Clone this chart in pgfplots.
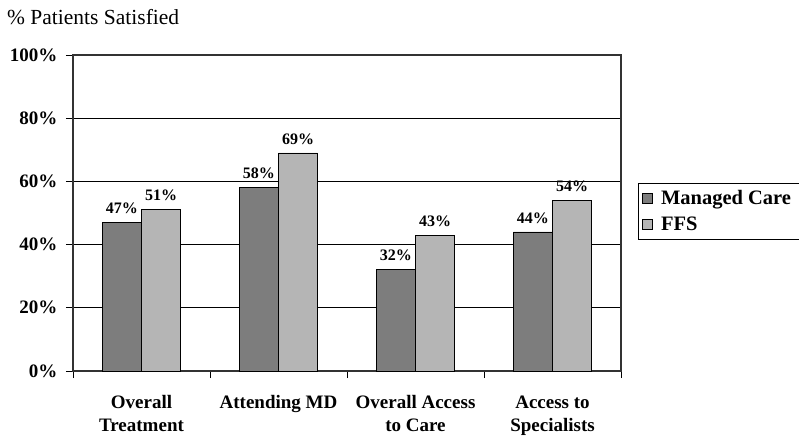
\documentclass[border=0pt]{standalone}
\usepackage{fontspec}
\setmainfont{Liberation Serif}
\usepackage{pgfplots}
\pgfplotsset{compat=1.18}
\definecolor{mc}{gray}{0.49}
\definecolor{ffs}{gray}{0.71}
\begin{document}
\begin{tikzpicture}[x=1pt,y=1pt]
\path[use as bounding box] (0,0) rectangle (799,437);
\node[anchor=base west, font=\fontsize{21.5}{21.5}\selectfont, inner sep=0] at (7,412) {\% Patients Satisfied};
\begin{axis}[
  at={(73pt,66pt)}, anchor=south west,
  scale only axis, width=548pt, height=316pt,
  /pgf/number format/assume math mode=true,
  ybar=0pt, bar width=0.285,
  xmin=-0.5, xmax=3.5, ymin=0, ymax=100,
  xtick={-0.5,0.5,1.5,2.5,3.5},
  x tick label as interval,
  xtick pos=bottom, ytick pos=left,
  xticklabels={Overall\\Treatment, Attending MD, Overall Access\\to Care, Access to\\Specialists},
  xticklabel style={align=center, font=\bfseries\fontsize{19}{23}\selectfont, yshift=-14pt},
  ytick={0,20,40,60,80,100},
  yticklabel={\pgfmathprintnumber{\tick}\%},
  yticklabel style={font=\bfseries\fontsize{19}{19}\selectfont, xshift=-5pt},
  tick align=outside, major tick length=7pt,
  tick style={black, line width=0.8pt},
  ymajorgrids, grid style={black, line width=1pt},
  axis line style={black!80, line width=1.2pt},
  nodes near coords={\pgfmathprintnumber{\pgfplotspointmeta}\%},
  every node near coord/.append style={font=\bfseries\fontsize{16}{16}\selectfont, black, yshift=5pt},
  legend cell align=left,
  legend style={at={(1.031,0.595)}, anchor=north west, draw=black, line width=0.8pt,
    font=\bfseries\fontsize{20.5}{20.5}\selectfont, row sep=7pt, inner xsep=4pt, inner ysep=5pt,
    nodes={inner xsep=8pt}},
  legend image code/.code={\draw[#1, draw=black, line width=0.6pt] (0pt,-5pt) rectangle (10pt,5pt);},
]
\addplot[fill=mc, draw=black, line width=0.8pt] coordinates {(0,47) (1,58) (2,32) (3,44)};
\addplot[fill=ffs, draw=black, line width=0.8pt] coordinates {(0,51) (1,69) (2,43) (3,54)};
\legend{Managed Care, FFS}
\end{axis}
\end{tikzpicture}
\end{document}
